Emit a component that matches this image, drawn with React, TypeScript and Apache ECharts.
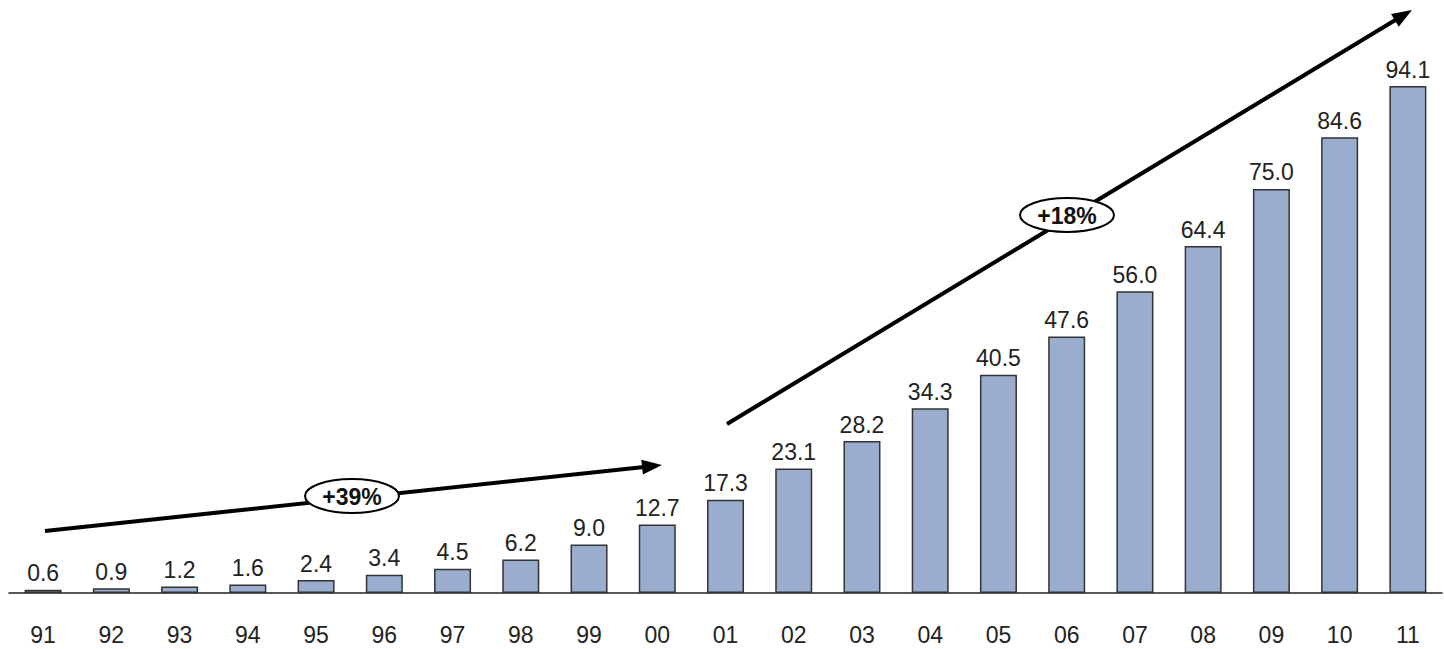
import React, { useEffect, useRef } from "react";
import * as echarts from "echarts";

const categories = ["91","92","93","94","95","96","97","98","99","00","01","02","03","04","05","06","07","08","09","10","11"];
const values = [0.6,0.9,1.2,1.6,2.4,3.4,4.5,6.2,9.0,12.7,17.3,23.1,28.2,34.3,40.5,47.6,56.0,64.4,75.0,84.6,94.1];

const FONT = "'Liberation Sans', Arial, Helvetica, sans-serif";

function arrow(x1: number, y1: number, x2: number, y2: number) {
  const ang = Math.atan2(y2 - y1, x2 - x1);
  const len = 20, hw = 7.5;
  const bx = x2 - len * Math.cos(ang), by = y2 - len * Math.sin(ang);
  const px = -Math.sin(ang), py = Math.cos(ang);
  return [
    { type: "line", shape: { x1, y1, x2: bx + 2 * Math.cos(ang), y2: by + 2 * Math.sin(ang) }, style: { stroke: "#000", lineWidth: 4 } },
    { type: "polygon", shape: { points: [[x2, y2], [bx + px * hw, by + py * hw], [bx - px * hw, by - py * hw]] }, style: { fill: "#000" } },
  ];
}

function badge(cx: number, cy: number, text: string) {
  return [
    { type: "ellipse", shape: { cx, cy, rx: 47, ry: 17 }, style: { fill: "#fff", stroke: "#000", lineWidth: 2 }, z: 10 },
    { type: "text", x: cx, y: cy + 1, style: { text, fill: "#111", font: `bold 23px ${FONT}`, align: "center", verticalAlign: "middle" }, z: 11 },
  ];
}

export default function App() {
  const ref = useRef<HTMLDivElement>(null);
  useEffect(() => {
    const chart = echarts.init(ref.current!, undefined, { renderer: "svg" });
    chart.setOption({
      animation: false,
      grid: { left: 9, right: 2, top: 54.3, bottom: 56 },
      xAxis: {
        type: "category",
        data: categories,
        axisTick: { show: false },
        axisLine: { lineStyle: { color: "#222", width: 1.5 } },
        axisLabel: { color: "#222", fontSize: 23, margin: 30, fontFamily: FONT },
      },
      yAxis: { type: "value", min: 0, max: 100, show: false, splitLine: { show: false } },
      series: [
        {
          type: "bar",
          data: values,
          barWidth: 37,
          itemStyle: { color: "#9badcf", borderColor: "#333", borderWidth: 1.5 },
          label: {
            show: true,
            position: "top",
            distance: 5,
            color: "#222",
            fontSize: 23,
            fontFamily: FONT,
            formatter: (p: any) => Number(p.value).toFixed(1),
          },
        },
      ],
      graphic: [
        ...arrow(45, 531, 662, 465),
        ...arrow(727, 424, 1412, 10),
        ...badge(352, 496, "+39%"),
        ...badge(1067, 215, "+18%"),
      ],
    });
    return () => chart.dispose();
  }, []);
  return <div ref={ref} style={{ position: "absolute", left: 0, top: 0, width: 1444, height: 649, background: "#fff" }} />;
}
